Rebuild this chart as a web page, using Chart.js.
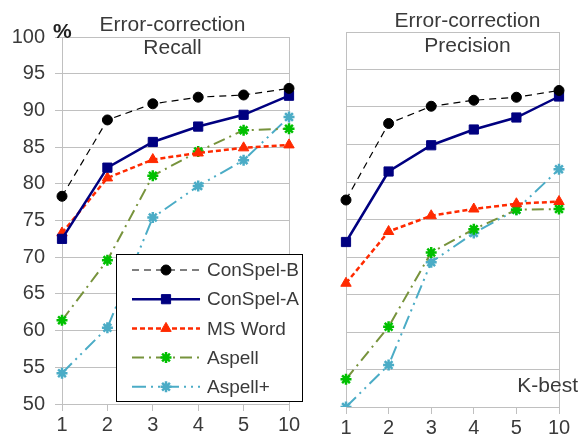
<!DOCTYPE html>
<html>
<head>
<meta charset="utf-8">
<script src="https://cdn.jsdelivr.net/npm/chart.js@4/dist/chart.umd.min.js"></script>
<style>
body { margin: 0; background: #fff; }
#wrap { position: relative; width: 581px; height: 437px; }
#recallBox { position: absolute; left: 0; top: 0; width: 320px; height: 437px; }
#precBox { position: absolute; left: 320px; top: 0; width: 261px; height: 437px; }
</style>
</head>
<body>
<div id="wrap">
  <div id="recallBox"><canvas id="recallChart"></canvas></div>
  <div id="precBox"><canvas id="precisionChart"></canvas></div>
</div>
<script>
// Datos
const kBest = ['1', '2', '3', '4', '5', '10'];
const seriesNames = ['ConSpel-B', 'ConSpel-A', 'MS Word', 'Aspell', 'Aspell+'];
const yMin = 50;
const yMax = 100;
const yStep = 5;

const recallConSpelB = [78.3, 88.7, 90.9, 91.8, 92.1, 93.0];
const recallConSpelA = [72.5, 82.2, 85.7, 87.8, 89.4, 92.0];
const recallMSWord = [73.3, 80.8, 83.3, 84.2, 84.9, 85.3];
const recallAspell = [61.4, 69.6, 81.1, 84.4, 87.3, 87.5];
const recallAspellPlus = [54.2, 60.4, 75.4, 79.7, 83.2, 89.1];

const precConSpelB = [77.6, 87.8, 90.1, 90.9, 91.3, 92.2];
const precConSpelA = [72.0, 81.4, 84.9, 87.0, 88.6, 91.4];
const precMSWord = [66.5, 73.4, 75.5, 76.4, 77.1, 77.4];
const precAspell = [53.7, 60.7, 70.6, 73.7, 76.3, 76.4];
const precAspellPlus = [50.0, 55.6, 69.3, 73.2, 76.3, 81.7];

const gridGray = '#c0c0c0';
const textGray = '#3a3a3a';
Chart.defaults.font.family = '"Liberation Sans", Arial, sans-serif';
Chart.defaults.color = textGray;

// Estilos de cada serie
const styles = [
    { borderColor: '#000000', borderWidth: 1.2, borderDash: [7, 5], pointStyle: 'circle', pointRadius: 5, pointBackgroundColor: '#000000', pointBorderColor: '#000000', pointBorderWidth: 1 },
    { borderColor: '#000080', borderWidth: 2.5, borderDash: [], pointStyle: 'rect', pointRadius: 6.5, pointBackgroundColor: '#000080', pointBorderColor: '#000080', pointBorderWidth: 1 },
    { borderColor: '#ff2a00', borderWidth: 2.5, borderDash: [5, 3], pointStyle: 'triangle', pointRadius: 6, pointBackgroundColor: '#ff2a00', pointBorderColor: '#ff2a00', pointBorderWidth: 1 },
    { borderColor: '#77933c', borderWidth: 2, borderDash: [12, 5, 2, 5], pointStyle: 'star', pointRadius: 5.5, pointBackgroundColor: '#00c000', pointBorderColor: '#00c000', pointBorderWidth: 2.5 },
    { borderColor: '#4bacc6', borderWidth: 2, borderDash: [14, 5, 2, 5, 2, 5], pointStyle: 'star', pointRadius: 5.5, pointBackgroundColor: '#4bacc6', pointBorderColor: '#4bacc6', pointBorderWidth: 2.5 }
];

function makeDatasets(values) {
    return values.map((v, i) => Object.assign({
        label: seriesNames[i],
        data: v,
        tension: 0,
        fill: false
    }, styles[i]));
}

// Titulos y textos sueltos
const textPlugin = {
    id: 'panelText',
    afterDraw(chart, args, opts) {
        const ctx = chart.ctx;
        const a = chart.chartArea;
        ctx.save();
        ctx.fillStyle = textGray;
        ctx.font = '21px "Liberation Sans", Arial, sans-serif';
        ctx.textAlign = 'center';
        ctx.textBaseline = 'alphabetic';
        const cx = (a.left + a.right) / 2 + opts.dx;
        ctx.fillText(opts.lines[0], cx, a.top + opts.y1);
        ctx.fillText(opts.lines[1], cx, a.top + opts.y2);
        if (opts.percent) {
            ctx.font = 'bold 21px "Liberation Sans", Arial, sans-serif';
            ctx.textAlign = 'left';
            ctx.fillStyle = '#222';
            ctx.fillText('%', a.left - 9, a.top + 1);
        }
        if (opts.kbest) {
            ctx.font = '21px "Liberation Sans", Arial, sans-serif';
            ctx.textAlign = 'right';
            ctx.fillText('K-best', chart.width - 3, a.bottom - 15);
        }
        ctx.restore();
    }
};

// Leyenda dentro del panel izquierdo
const boxLegend = {
    id: 'boxLegend',
    afterDraw(chart, args, opts) {
        if (!opts.show) return;
        const ctx = chart.ctx;
        ctx.save();
        ctx.fillStyle = '#ffffff';
        ctx.fillRect(116, 254, 186, 147);
        ctx.strokeStyle = '#000000';
        ctx.lineWidth = 1;
        ctx.strokeRect(116.5, 254.5, 186, 147);
        chart.data.datasets.forEach((ds, i) => {
            const y = 270 + i * 29.2;
            ctx.setLineDash(ds.borderDash);
            ctx.strokeStyle = ds.borderColor;
            ctx.lineWidth = ds.borderWidth;
            ctx.beginPath();
            ctx.moveTo(132, y);
            ctx.lineTo(200, y);
            ctx.stroke();
            ctx.setLineDash([]);
            ctx.fillStyle = ds.pointBackgroundColor;
            ctx.strokeStyle = ds.pointBorderColor;
            ctx.lineWidth = ds.pointBorderWidth;
            Chart.helpers.drawPoint(ctx, { pointStyle: ds.pointStyle, radius: ds.pointRadius, borderWidth: ds.pointBorderWidth, rotation: 0 }, 166, y);
            ctx.fillStyle = textGray;
            ctx.font = '19px "Liberation Sans", Arial, sans-serif';
            ctx.textAlign = 'left';
            ctx.textBaseline = 'middle';
            ctx.fillText(ds.label, 207, y + 1);
        });
        ctx.restore();
    }
};

function makeChart(canvasId, values, cfg) {
    const last = kBest.length - 1;
    const config = {
        type: 'line',
        data: { labels: kBest, datasets: makeDatasets(values) },
        plugins: [textPlugin, boxLegend],
        options: {
            responsive: true,
            maintainAspectRatio: false,
            animation: false,
            layout: { padding: { top: cfg.top, right: cfg.right, left: 0, bottom: 0 } },
            plugins: {
                legend: { display: false },
                tooltip: { enabled: false },
                panelText: cfg.text,
                boxLegend: { show: cfg.legend }
            },
            scales: {
                x: {
                    offset: false,
                    afterFit: s => { s.height = cfg.xHeight; },
                    grid: {
                        color: c => (c.index === 0 || c.index === last) ? gridGray : 'rgba(0,0,0,0)',
                        tickColor: gridGray,
                        tickLength: 7
                    },
                    border: { color: gridGray },
                    ticks: { font: { size: 20 }, padding: 2, maxRotation: 0, color: textGray }
                },
                y: {
                    min: yMin,
                    max: yMax,
                    afterFit: s => { s.width = cfg.yWidth; },
                    grid: { color: gridGray, drawTicks: cfg.yTicks, tickLength: 7 },
                    border: { color: gridGray },
                    ticks: { display: cfg.yTicks, stepSize: yStep, font: { size: 20 }, padding: 10, color: textGray }
                }
            }
        }
    };
    const ctx = document.getElementById(canvasId).getContext('2d');
    return new Chart(ctx, config);
}

makeChart('recallChart',
    [recallConSpelB, recallConSpelA, recallMSWord, recallAspell, recallAspellPlus],
    { top: 37, right: 31, xHeight: 33, yWidth: 62, yTicks: true, legend: true,
      text: { lines: ['Error-correction', 'Recall'], dx: -3, y1: -6, y2: 17, percent: true, kbest: false } });

makeChart('precisionChart',
    [precConSpelB, precConSpelA, precMSWord, precAspell, precAspellPlus],
    { top: 32, right: 22, xHeight: 30, yWidth: 26, yTicks: false, legend: false,
      text: { lines: ['Error-correction', 'Precision'], dx: 15, y1: -5, y2: 20, percent: false, kbest: true } });
</script>
</body>
</html>
